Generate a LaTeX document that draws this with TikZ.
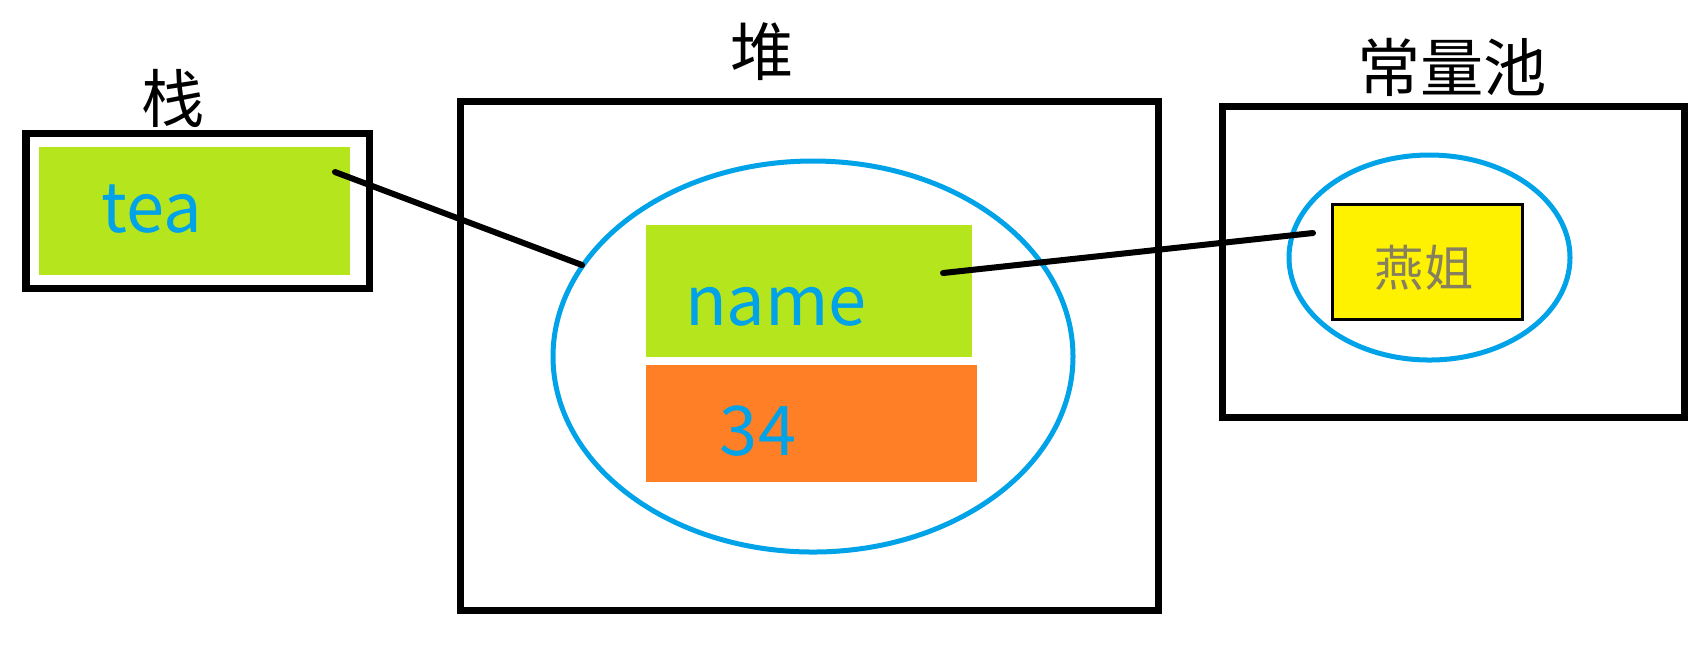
\documentclass[tikz,border=0pt]{standalone}
\usepackage{fontspec}
\setmainfont{Noto Sans CJK SC}
\newfontfamily\cjkfont{Noto Sans CJK SC}
\definecolor{limegreen}{RGB}{181,230,29}
\definecolor{paintorange}{RGB}{255,127,39}
\definecolor{paintblue}{RGB}{0,162,232}
\definecolor{paintyellow}{RGB}{255,242,0}
\definecolor{grayolive}{RGB}{135,128,95}
\begin{document}
\begin{tikzpicture}[x=0.01cm,y=-0.01cm,
  areabox/.style={draw=black,line width=0.07cm,inner sep=0pt},
  blueoval/.style={draw=paintblue,line width=0.05cm},
  valtext/.style={text=paintblue,font=\fontsize{19.5pt}{23pt}\selectfont,inner sep=0pt,anchor=base},
  arealabel/.style={text=black,font=\cjkfont\fontsize{18pt}{22pt}\selectfont,inner sep=0pt},
  link/.style={draw=black,line width=0.06cm,line cap=round}]
\useasboundingbox (0,0) rectangle (1703,653);
\fill[white] (0,0) rectangle (1703,653);

% stack
\draw[areabox] (26,133) rectangle (369,288);
\fill[limegreen] (39,147) rectangle (350,275);
\node[arealabel] (stacklabel) at (173,98) {栈};
\node[valtext] (tea) at (152,232) {tea};

% heap
\draw[areabox] (460,101) rectangle (1158,610);
\node[arealabel] (heaplabel) at (762,52) {堆};
\draw[blueoval] (813,356.5) ellipse [x radius=260, y radius=195.5];
\fill[limegreen] (646,225) rectangle (972,357);
\fill[paintorange] (646,365) rectangle (977,482);
\node[valtext] (name) at (776,325) {name};
\node[valtext] (age) at (758,455) {34};

% constant pool
\draw[areabox] (1222,106) rectangle (1684,417);
\node[arealabel] (poollabel) at (1452,67) {常量池};
\draw[blueoval] (1429.5,257.5) ellipse [x radius=140.5, y radius=102.5];
\draw[fill=paintyellow,draw=black,line width=0.03cm] (1332,204) rectangle (1522,319);
\node[text=grayolive,font=\cjkfont\fontsize{14pt}{17pt}\selectfont,inner sep=0pt] (yanjie) at (1424,268) {燕姐};

% connectors
\coordinate (teaEnd) at (335,172);
\coordinate (heapHit) at (582,265);
\coordinate (nameEnd) at (943,273);
\coordinate (poolHit) at (1313,233);
\draw[link] (teaEnd) -- (heapHit);
\draw[link] (nameEnd) -- (poolHit);
\end{tikzpicture}
\end{document}
